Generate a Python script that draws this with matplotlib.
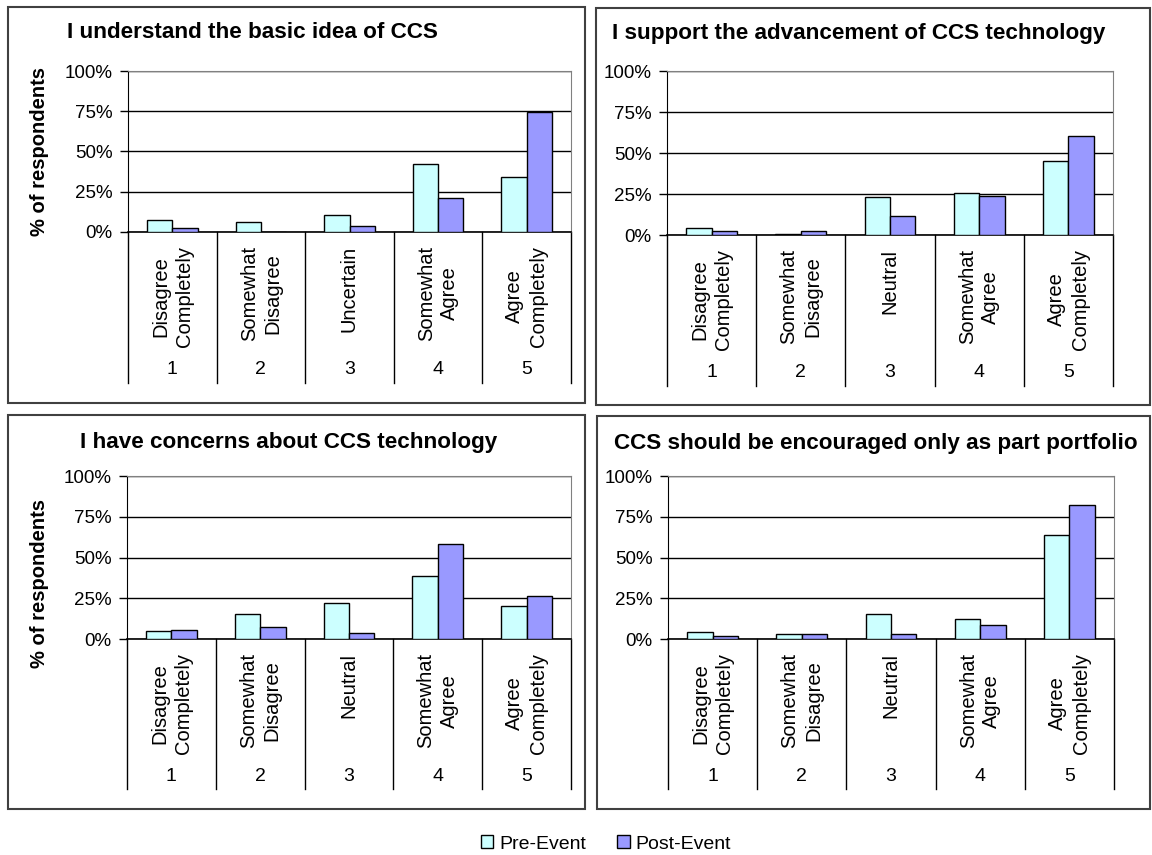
import numpy as np
import matplotlib
matplotlib.use("Agg")
import matplotlib.pyplot as plt
import matplotlib.transforms as mtransforms
from matplotlib.patches import Rectangle, Patch
from matplotlib.ticker import FuncFormatter

plt.rcParams['font.family'] = ['Liberation Sans', 'DejaVu Sans']

# data (percent of respondents)
titles = [
    "I understand the basic idea of CCS",
    "I support the advancement of CCS technology",
    "I have concerns about CCS technology",
    "CCS should be encouraged only as part portfolio",
]
labels_first = ["Disagree\nCompletely", "Somewhat\nDisagree", "Uncertain",
                "Somewhat\nAgree", "Agree\nCompletely"]
labels_other = ["Disagree\nCompletely", "Somewhat\nDisagree", "Neutral",
                "Somewhat\nAgree", "Agree\nCompletely"]
levels = ["1", "2", "3", "4", "5"]

pre_understand = [7.2, 6.4, 10.3, 42.3, 34.0]
post_understand = [2.3, 0.0, 3.9, 21.0, 74.6]
pre_support = [4.5, 0.6, 23.2, 25.4, 44.9]
post_support = [2.4, 2.2, 11.8, 24.0, 60.2]
pre_concerns = [4.9, 15.3, 21.9, 38.7, 20.2]
post_concerns = [5.7, 7.2, 3.9, 58.1, 26.6]
pre_portfolio = [4.1, 3.3, 15.4, 12.1, 64.1]
post_portfolio = [1.6, 3.3, 3.3, 8.8, 82.5]

pre_color = "#CCFFFF"
post_color = "#9999FF"

W, H = 1152, 855
fig = plt.figure(figsize=(W / 100, H / 100), dpi=100)


def px_rect(l, t, r, b):
    return [l / W, 1 - b / H, (r - l) / W, (b - t) / H]


# panel frames (pixels: left, top, right, bottom)
boxes = [(8, 7, 585, 403), (596, 8, 1150, 405), (8, 415, 585, 809), (597, 416, 1150, 809)]
for (l, t, r, b) in boxes:
    fig.add_artist(Rectangle((l / W, 1 - b / H), (r - l) / W, (b - t) / H,
                             transform=fig.transFigure, fill=False,
                             edgecolor="#404040", lw=1.5))

axes_px = [(128, 71, 571, 232), (667, 71, 1113, 235), (127, 476, 571, 639), (668, 476, 1114, 639)]
title_px = [(67, 32), (612, 33), (80, 442), (614, 443)]
div_bottom = [383, 386, 789, 789]
num_y = [370, 372, 776, 776]
cat_labels = [labels_first, labels_other, labels_other, labels_other]
pre_all = [pre_understand, pre_support, pre_concerns, pre_portfolio]
post_all = [post_understand, post_support, post_concerns, post_portfolio]

x = np.arange(5)
bw = 0.285

for k in range(4):
    l, t, r, b = axes_px[k]
    ax = fig.add_axes(px_rect(l, t, r, b))
    h = b - t
    ax.bar(x - bw / 2, pre_all[k], bw, color=pre_color, edgecolor="black", lw=1, zorder=3)
    ax.bar(x + bw / 2, post_all[k], bw, color=post_color, edgecolor="black", lw=1, zorder=3)
    ax.set_xlim(-0.5, 4.5)
    ax.set_ylim(0, 100)
    ax.set_yticks([0, 25, 50, 75, 100])
    ax.yaxis.set_major_formatter(FuncFormatter(lambda v, p: "%d%%" % v))
    ax.tick_params(axis="y", length=6, width=1, pad=5, labelsize=13.5, colors="black")
    ax.set_xticks([])
    ax.yaxis.grid(True, color="black", lw=1)
    ax.set_axisbelow(True)
    for s in ["top", "right"]:
        ax.spines[s].set_color("#808080")
    ax.spines["left"].set_color("black")
    ax.spines["bottom"].set_color("black")
    ax.spines["bottom"].set_linewidth(1.2)

    trans = mtransforms.blended_transform_factory(ax.transData, ax.transAxes)
    yb = -(div_bottom[k] - b) / h
    for d in np.arange(-0.5, 5.0, 1.0):
        ax.plot([d, d], [0, yb], color="black", lw=1, transform=trans, clip_on=False)
    for i in range(5):
        ax.text(x[i], -(246 - 232) / h, cat_labels[k][i], rotation=90, ha="center", va="top",
                multialignment="center", fontsize=14.5, transform=trans, linespacing=1.3)
        ax.text(x[i], -(num_y[k] - b) / h, levels[i], ha="center", va="center",
                fontsize=14, transform=trans)

    tx, ty = title_px[k]
    fig.text(tx / W, 1 - ty / H, titles[k], fontsize=16.2, fontweight="bold",
             ha="left", va="center")
    if k in (0, 2):
        fig.text(40 / W, 1 - (152 if k == 0 else 583) / H, "% of respondents", rotation=90,
                 fontsize=14.5, fontweight="bold", ha="center", va="center")

handles = [Patch(facecolor=pre_color, edgecolor="black", label="Pre-Event"),
           Patch(facecolor=post_color, edgecolor="black", label="Post-Event")]
fig.legend(handles=handles, loc="center", bbox_to_anchor=(606 / W, 1 - 844 / H), ncol=2,
           frameon=False, fontsize=14, handlelength=0.65, handleheight=0.65,
           handletextpad=0.3, columnspacing=1.6)

fig.savefig("out.png", dpi=100)
